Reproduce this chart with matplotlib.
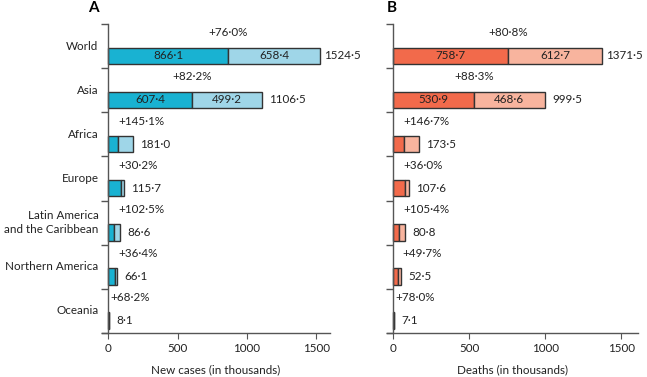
import matplotlib.pyplot as plt
import numpy as np

FS = 8.4
TC = '#222222'
plt.rcParams['font.family'] = ['Lato', 'DejaVu Sans']
plt.rcParams['font.size'] = FS
plt.rcParams['xtick.labelsize'] = FS
plt.rcParams['ytick.labelsize'] = FS
plt.rcParams['axes.labelsize'] = FS

regions = ['World', 'Asia', 'Africa', 'Europe', 'Latin America\nand the Caribbean',
           'Northern America', 'Oceania']

# new cases (thousands): baseline and increase, with totals and % change
cases_base = [866.1, 607.4, 73.8, 88.9, 42.8, 48.5, 4.8]
cases_inc = [658.4, 499.2, 107.2, 26.8, 43.8, 17.6, 3.3]
cases_total = [1524.5, 1106.5, 181.0, 115.7, 86.6, 66.1, 8.1]
cases_pct = [76.0, 82.2, 145.1, 30.2, 102.5, 36.4, 68.2]

# deaths (thousands)
deaths_base = [758.7, 530.9, 70.3, 79.1, 39.3, 35.1, 4.0]
deaths_inc = [612.7, 468.6, 103.2, 28.5, 41.5, 17.4, 3.1]
deaths_total = [1371.5, 999.5, 173.5, 107.6, 80.8, 52.5, 7.1]
deaths_pct = [80.8, 88.3, 146.7, 36.0, 105.4, 49.7, 78.0]


def fmt(v):
    return f'{v:.1f}'.replace('.', '\u00b7')


def panel(ax, base, inc, total, pct, c_dark, c_light, xlabel, letter, xlim, show_labels):
    n = len(base)
    y = np.arange(n) + 0.72
    ax.barh(y, base, height=0.37, color=c_dark, edgecolor='#333333', linewidth=1)
    ax.barh(y, inc, left=base, height=0.37, color=c_light, edgecolor='#333333', linewidth=1)
    for i in range(n):
        # widest bar gets a tighter gap so its label stays inside the figure
        gap = 3 if total[i] > 1200 else 5
        ax.annotate(fmt(total[i]), (total[i], y[i]), xytext=(gap, 0), textcoords='offset points',
                    ha='left', va='center', fontsize=FS, color=TC)
        ptxt = '+' + fmt(pct[i]) + '%'
        if total[i] > 500:
            ax.text(base[i], i + 0.2, ptxt, ha='center', va='center', fontsize=FS, color=TC)
            ax.text(base[i] / 2, y[i], fmt(base[i]), ha='center', va='center', fontsize=FS, color=TC)
            ax.text(base[i] + inc[i] / 2, y[i], fmt(inc[i]), ha='center', va='center', fontsize=FS, color=TC)
        else:
            ax.text(min(total[i], 60) + 10, i + 0.2, ptxt, ha='left', va='center', fontsize=FS, color=TC)
        if show_labels:
            ax.annotate(regions[i], (0, i + 0.5), xytext=(-7, 0), textcoords='offset points',
                        ha='right', va='center', fontsize=FS, color=TC, linespacing=1.35)
    ax.set_ylim(n, 0)
    ax.set_xlim(*xlim)
    ax.set_yticks(np.arange(n + 1))
    ax.set_yticklabels([])
    ax.tick_params(axis='y', length=5, color='#555555', width=1)
    ax.set_xticks([0, 500, 1000, 1500])
    ax.tick_params(axis='x', length=4, color='#555555', labelsize=FS, labelcolor=TC)
    ax.spines['top'].set_visible(False)
    ax.spines['right'].set_visible(False)
    ax.spines['left'].set_position(('data', 0))
    for s in ['left', 'bottom']:
        ax.spines[s].set_color('#555555')
        ax.spines[s].set_linewidth(1)
    ax.set_xlabel(xlabel, fontsize=FS, color=TC, labelpad=7)
    ax.text(-0.06 if show_labels else 0.0, 1.039, letter, transform=ax.transAxes,
            fontsize=11, fontweight='bold', va='baseline')


fig = plt.figure(figsize=(6.47, 3.77), dpi=100)
ax1 = fig.add_axes([0.1577, 0.1167, 0.3524, 0.8196])
ax2 = fig.add_axes([0.598, 0.1167, 0.388, 0.8196])

panel(ax1, cases_base, cases_inc, cases_total, cases_pct, '#19b2d2', '#9fd6e8',
      'New cases (in thousands)', 'A', (-45, 1600), True)
panel(ax2, deaths_base, deaths_inc, deaths_total, deaths_pct, '#f26a4b', '#f8b49e',
      'Deaths (in thousands)', 'B', (-40, 1610), False)

fig.savefig('out.png', dpi=100)
